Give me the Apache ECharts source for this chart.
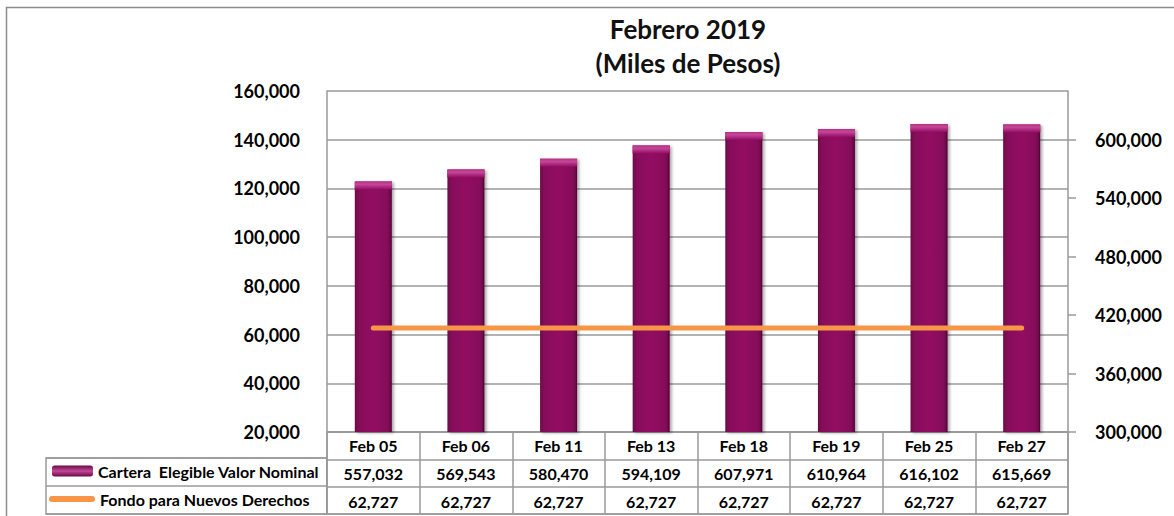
<!DOCTYPE html>
<html>
<head>
<meta charset="utf-8">
<script src="https://cdn.jsdelivr.net/npm/echarts@6/dist/echarts.min.js"></script>
<style>
html,body{margin:0;padding:0;background:#fff;}
#chart{width:1174px;height:516px;}
</style>
</head>
<body>
<div id="chart"></div>
<script>
// ---- data ----
var categories = ['Feb 05','Feb 06','Feb 11','Feb 13','Feb 18','Feb 19','Feb 25','Feb 27'];
var carteraName = 'Cartera  Elegible Valor Nominal';
var fondoName = 'Fondo para Nuevos Derechos';
var cartera = [557032, 569543, 580470, 594109, 607971, 610964, 616102, 615669];
var fondo = [62727, 62727, 62727, 62727, 62727, 62727, 62727, 62727];
var leftTicks = [20000, 40000, 60000, 80000, 100000, 120000, 140000, 160000];
var rightTicks = [300000, 360000, 420000, 480000, 540000, 600000];
var titleText = 'Febrero 2019\n(Miles de Pesos)';

// ---- helpers ----
function fmt(v){ return Number(v).toLocaleString('en-US'); }
var FONT = 'Lato';
var GRID_COLOR = '#9a9a9a';
var ORANGE = '#f79646';

var chart = echarts.init(document.getElementById('chart'), null, {renderer:'svg'});

var barGradient = new echarts.graphic.LinearGradient(0,0,1,0,[
  {offset:0, color:'#6a0747'},
  {offset:0.12, color:'#860b5a'},
  {offset:0.5, color:'#930d63'},
  {offset:0.88, color:'#850a59'},
  {offset:1, color:'#5a053c'}
]);
var capGradient = new echarts.graphic.LinearGradient(0,0,0,1,[
  {offset:0, color:'#b8307f'},
  {offset:0.35, color:'#c4469a'},
  {offset:1, color:'#930d63'}
]);
var legendBarGradient = new echarts.graphic.LinearGradient(0,0,0,1,[
  {offset:0, color:'#6a0747'},
  {offset:0.5, color:'#c24a96'},
  {offset:1, color:'#6a0747'}
]);

var tableText = {fontFamily:FONT, fontWeight:'bold', fontSize:16, color:'#000'};

var option = {
  backgroundColor:'#fff',
  animation:false,
  textStyle:{fontFamily:FONT, fontWeight:'bold', color:'#000'},
  title:{
    text:titleText,
    left:688, top:12, textAlign:'center', padding:0,
    textStyle:{fontFamily:FONT, fontWeight:'bold', fontSize:26, lineHeight:34, color:'#111'}
  },
  graphic:[{
    type:'rect', silent:true, z:-10,
    shape:{x:6.5, y:7.5, width:1200, height:600},
    style:{fill:'none', stroke:'#8c8c8c', lineWidth:1.5}
  }],
  legend:[{
    data:[{name:carteraName, icon:'roundRect', itemStyle:{color:legendBarGradient}}],
    left:52, top:463, padding:0,
    itemWidth:41, itemHeight:11,
    textStyle:tableText
  },{
    data:[{name:fondoName,
           icon:'path://M3,0 L43,0 A3,3 0 0 1 43,6 L3,6 A3,3 0 0 1 3,0 Z',
           itemStyle:{color:ORANGE, borderWidth:0}}],
    left:49, top:491, padding:0,
    itemWidth:46, itemHeight:6,
    lineStyle:{width:0, opacity:0},
    textStyle:tableText
  }],
  grid:[
    {left:327, right:106, top:91, height:341, show:false},
    {left:327, right:106, top:432, height:82, show:true, borderColor:GRID_COLOR, borderWidth:1.5, backgroundColor:'transparent'},
    {left:46, width:281, top:458, height:56, show:true, borderColor:GRID_COLOR, borderWidth:1.5, backgroundColor:'transparent'}
  ],
  xAxis:[
    {type:'category', gridIndex:0, data:categories, position:'bottom',
     axisLine:{show:false}, axisTick:{show:false},
     axisLabel:Object.assign({margin:5}, tableText)},
    {type:'category', gridIndex:0, data:cartera.map(fmt), position:'bottom', offset:28,
     axisLine:{show:false}, axisTick:{show:false},
     axisLabel:Object.assign({margin:5}, tableText)},
    {type:'category', gridIndex:0, data:fondo.map(fmt), position:'bottom', offset:56,
     axisLine:{show:false}, axisTick:{show:false},
     axisLabel:Object.assign({margin:5}, tableText)},
    {type:'category', gridIndex:1, data:categories, boundaryGap:true,
     axisLine:{show:false}, axisTick:{show:false}, axisLabel:{show:false},
     splitLine:{show:true, lineStyle:{color:GRID_COLOR, width:1.5}}},
    {type:'value', gridIndex:2, show:false, splitLine:{show:false}}
  ],
  yAxis:[
    {type:'value', gridIndex:0, min:20000, max:160000, interval:20000, position:'left',
     axisLine:{show:true, lineStyle:{color:GRID_COLOR, width:1.5}},
     axisTick:{show:false},
     splitLine:{show:true, lineStyle:{color:GRID_COLOR, width:1.5}},
     axisLabel:{margin:27, fontFamily:FONT, fontWeight:'bold', fontSize:18, color:'#000', formatter:fmt}},
    {type:'value', gridIndex:0, min:300000, max:650000, position:'right',
     axisLine:{show:true, lineStyle:{color:GRID_COLOR, width:1.5}},
     axisTick:{show:true, length:8, inside:false, customValues:rightTicks, lineStyle:{color:GRID_COLOR, width:1.5}},
     splitLine:{show:false},
     axisLabel:{margin:27, customValues:rightTicks, fontFamily:FONT, fontWeight:'bold', fontSize:18, color:'#000', formatter:fmt}},
    {type:'category', gridIndex:1, data:['h','c','f'], inverse:true,
     axisLine:{show:false}, axisTick:{show:false}, axisLabel:{show:false},
     splitLine:{show:true, lineStyle:{color:GRID_COLOR, width:1.5}}},
    {type:'category', gridIndex:2, data:['c','f'], inverse:true,
     axisLine:{show:false}, axisTick:{show:false}, axisLabel:{show:false},
     splitLine:{show:true, lineStyle:{color:GRID_COLOR, width:1.5}}}
  ],
  series:[
    {name:carteraName, type:'bar', xAxisIndex:0, yAxisIndex:1, data:cartera,
     barWidth:37, z:2,
     itemStyle:{color:barGradient, shadowBlur:3, shadowColor:'rgba(0,0,0,0.35)', shadowOffsetX:2, shadowOffsetY:1}},
    {name:'cap', type:'pictorialBar', xAxisIndex:0, yAxisIndex:1, data:cartera,
     barWidth:37, symbol:'rect', symbolSize:[37,8], symbolPosition:'end', z:3, silent:true,
     itemStyle:{color:capGradient}},
    {name:fondoName, type:'line', xAxisIndex:0, yAxisIndex:0, data:fondo,
     symbol:'none', showSymbol:false, z:5,
     lineStyle:{color:ORANGE, width:5, cap:'round'},
     itemStyle:{color:ORANGE}}
  ]
};
chart.setOption(option);
</script>
</body>
</html>
